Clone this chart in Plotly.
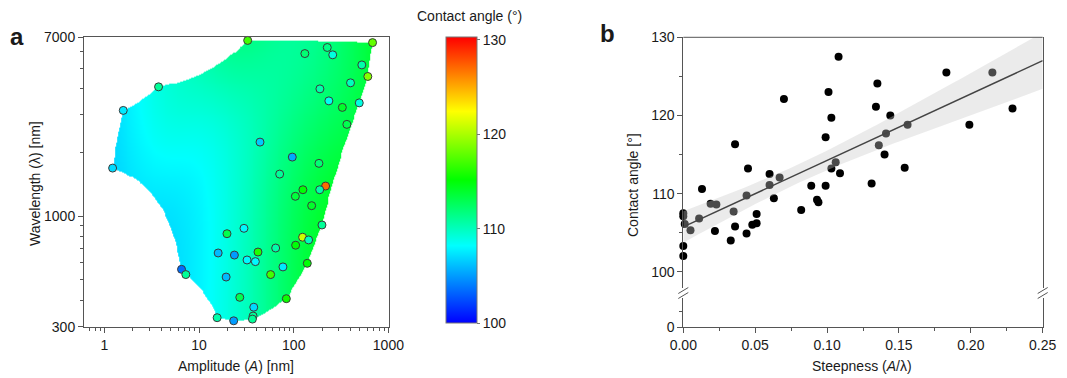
import numpy as np
import plotly.graph_objects as go

# ---------------- Panel a data: amplitude, wavelength, contact angle ----------------
amp_nm = [3.73, 1.58, 1.22, 32.6, 680, 226, 131, 258, 524, 606, 398, 189, 235, 492, 326, 364,
          44, 96.5, 184.5, 71, 217, 125, 188, 104, 154.6, 198.6, 29.8, 124, 104.7, 143.5, 64.4,
          41.9, 32.1, 39.3, 139, 76.9, 57, 26.9, 83.5, 37.8, 37.2, 36.6, 19.7, 15.9, 23.6,
          6.52, 7.24, 19.3, 15.5, 23.2]
wavelength_nm = [4074, 3153, 1684, 6747, 6590, 6250, 5850, 5770, 5170, 4560, 4256, 3985, 3497,
                 3422, 3258, 2709, 2234, 1898, 1773, 1578, 1385, 1331, 1331, 1239, 1119, 907, 875,
                 794, 728, 771, 706, 676, 620, 609, 598, 575, 529, 413, 407, 371, 337, 326, 825,
                 669, 654, 560, 529, 515, 331, 320]
angle_a = [111, 107.5, 107, 117, 118, 111.5, 112, 109, 110.5, 119, 110, 110.5, 108.5, 109, 114,
           113, 106.5, 105.5, 112, 111, 127, 115, 110.5, 113.5, 114, 111, 108, 121, 115, 110,
           110.5, 116, 108, 108, 115, 107.5, 117, 113, 115.5, 107, 111, 111, 113, 106, 105,
           103.5, 111, 106, 110.5, 105]

# ---------------- Panel b data: steepness vs contact angle ----------------
steepness = [0.000, 0.000, 0.001, 0.000, 0.000, 0.005, 0.011, 0.013, 0.019, 0.023, 0.022, 0.033,
             0.035, 0.036, 0.036, 0.044, 0.044, 0.045, 0.048, 0.051, 0.051, 0.060, 0.060, 0.063,
             0.067, 0.070, 0.082, 0.089, 0.093, 0.094, 0.099, 0.099, 0.101, 0.103, 0.103, 0.106,
             0.108, 0.109, 0.131, 0.134, 0.135, 0.136, 0.140, 0.141, 0.144, 0.154, 0.156, 0.183,
             0.199, 0.215, 0.229]
angle_b = [102.0, 103.3, 106.1, 107.1, 107.5, 105.3, 106.8, 110.6, 108.7, 108.6, 105.2, 104.0,
           107.7, 116.3, 105.8, 104.9, 109.75, 113.2, 106.0, 106.2, 107.4, 111.1, 112.5, 109.4,
           112.05, 122.1, 107.9, 111.0, 109.2, 108.9, 111.0, 117.2, 123.0, 119.7, 113.2, 114.0,
           127.5, 112.6, 111.3, 121.1, 124.1, 116.2, 115.0, 117.7, 120.0, 113.3, 118.8, 125.5,
           118.8, 125.5, 120.9]

# ticks
a_xticks = [1, 10, 100, 1000]
a_xticktext = ["1", "10", "100", "1000"]
a_xminor = [0.7, 0.8, 0.9] + [m * d for d in (1, 10, 100) for m in range(2, 10)]
a_yticks = [300, 1000, 7000]
a_yticktext = ["300", "1000", "7000"]
a_yminor = [400, 500, 600, 700, 800, 900, 2000, 3000, 4000, 5000, 6000]
cb_ticks = [100, 110, 120, 130]
b_xticks = [0, 0.05, 0.10, 0.15, 0.20, 0.25]
b_xticktext = ["0.00", "0.05", "0.10", "0.15", "0.20", "0.25"]
b_xminor = [0.025, 0.075, 0.125, 0.175, 0.225]
b_yticks = [100, 110, 120, 130]
b_yminor = [105, 115, 125]
b_y3ticks = [0]
b_y3minor = [2]

W, H = 1067, 378
def px(x): return x / W
def py(y): return 1 - y / H

FONT = "Arial, 'Liberation Sans', sans-serif"
AX = "#555555"
TXT = "#1a1a1a"
CMIN, CMAX = 100, 130.3
cscale = [[0.0, "#0000ff"], [0.27, "#00ffff"], [0.5, "#00ff00"], [0.74, "#ffff00"], [1.0, "#ff0000"]]

# ---------------- surface for panel a (plane fit + smoothed residuals, clipped to hull) ----------------
A = np.array(amp_nm, float); L = np.array(wavelength_nm, float); V = np.array(angle_a, float)
la, ll = np.log10(A), np.log10(L)
M = np.column_stack([np.ones_like(la), la, ll])
coef, *_ = np.linalg.lstsq(M, V, rcond=None)
resid = V - M @ coef
gx = np.linspace(-0.22, 3.0, 330)
gy = np.linspace(np.log10(300), np.log10(7000), 300)
GX, GY = np.meshgrid(gx, gy)
bw = 0.35
w = np.exp(-((GX[..., None] - la) ** 2 + (GY[..., None] - ll) ** 2) / (2 * bw ** 2))
Z = coef[0] + coef[1] * GX + coef[2] * GY + (w * resid).sum(-1) / (w.sum(-1) + 1.0)

# convex hull in linear space
pts = sorted(set(zip(A.tolist(), L.tolist())))
def cross(o, a, b): return (a[0]-o[0])*(b[1]-o[1]) - (a[1]-o[1])*(b[0]-o[0])
lower, upper = [], []
for p in pts:
    while len(lower) >= 2 and cross(lower[-2], lower[-1], p) <= 0: lower.pop()
    lower.append(p)
for p in reversed(pts):
    while len(upper) >= 2 and cross(upper[-2], upper[-1], p) <= 0: upper.pop()
    upper.append(p)
hull = lower[:-1] + upper[:-1]
GXl, GYl = 10 ** GX, 10 ** GY
inside = np.ones_like(GXl, bool)
for i in range(len(hull)):
    a = hull[i]; b = hull[(i + 1) % len(hull)]
    c = (b[0]-a[0])*(GYl-a[1]) - (b[1]-a[1])*(GXl-a[0])
    inside &= c >= 0
Z = np.where(inside, Z, np.nan)

# ---------------- regression for panel b ----------------
xs = np.array(steepness); ys = np.array(angle_b)
n = len(xs)
slope, icpt = np.polyfit(xs, ys, 1)
res = ys - (slope * xs + icpt)
s = np.sqrt((res ** 2).sum() / (n - 2))
xbar = xs.mean(); Sxx = ((xs - xbar) ** 2).sum()
xg = np.linspace(0, 0.25, 120)
yfit = slope * xg + icpt
half = 2.01 * s * np.sqrt(1 / n + (xg - xbar) ** 2 / Sxx)

fig = go.Figure()
fig.add_trace(go.Heatmap(
    x=10 ** gx, y=10 ** gy, z=Z, colorscale=cscale, zmin=CMIN, zmax=CMAX, zsmooth=False,
    hoverinfo="skip", xaxis="x", yaxis="y",
    colorbar=dict(x=px(446), xanchor="left", y=py(180), yanchor="middle", xpad=0, ypad=0,
                  thickness=31, thicknessmode="pixels", len=286, lenmode="pixels",
                  outlinewidth=1, outlinecolor="#777", tickvals=cb_ticks,
                  ticks="outside", ticklen=3, tickcolor="#777",
                  tickfont=dict(size=14, color=TXT, family=FONT))))
fig.add_trace(go.Scatter(
    x=amp_nm, y=wavelength_nm, mode="markers", xaxis="x", yaxis="y", cliponaxis=False,
    marker=dict(size=8, color=angle_a, colorscale=cscale, cmin=CMIN, cmax=CMAX,
                line=dict(color="#3a3a3a", width=1)), showlegend=False))

# empty trace so that the lower (broken) segment of panel b's y axis is drawn
fig.add_trace(go.Scatter(x=[], y=[], xaxis="x2", yaxis="y3", showlegend=False))

fig.add_trace(go.Scatter(x=xs, y=ys, mode="markers", xaxis="x2", yaxis="y2", cliponaxis=False,
                         marker=dict(size=8, color="black"), showlegend=False))
fig.add_trace(go.Scatter(x=np.concatenate([xg, xg[::-1]]),
                         y=np.concatenate([yfit + half, (yfit - half)[::-1]]),
                         fill="toself", fillcolor="rgba(200,200,200,0.37)", line=dict(width=0),
                         mode="lines", xaxis="x2", yaxis="y2", showlegend=False, hoverinfo="skip"))
fig.add_trace(go.Scatter(x=xg, y=yfit, mode="lines", line=dict(color="#444", width=1.4),
                         xaxis="x2", yaxis="y2", showlegend=False))

common = dict(showline=True, linecolor=AX, linewidth=1, ticks="outside", tickcolor=AX,
              ticklen=5, showgrid=False, zeroline=False, automargin=False,
              tickfont=dict(size=14, color=TXT, family=FONT))
fig.update_layout(
    width=W, height=H, margin=dict(l=0, r=0, t=0, b=0, autoexpand=False),
    paper_bgcolor="white", plot_bgcolor="white", showlegend=False,
    font=dict(family=FONT, color=TXT),
    xaxis=dict(common, type="log", domain=[px(84), px(388.5)], range=[-0.216, 3.001],
               anchor="y", mirror=True, tickvals=a_xticks, ticktext=a_xticktext,
               minor=dict(tickvals=a_xminor, ticklen=3, ticks="outside", tickcolor=AX)),
    yaxis=dict(common, type="log", domain=[py(326.8), py(37)],
               range=[np.log10(300) - 0.0003, np.log10(7000) + 0.0003],
               anchor="x", mirror=True, tickvals=a_yticks, ticktext=a_yticktext,
               minor=dict(tickvals=a_yminor, ticklen=3, ticks="outside", tickcolor=AX)),
    xaxis2=dict(common, domain=[px(683.3), px(1042.7)], range=[0, 0.25], anchor="y3",
                tickvals=b_xticks, ticktext=b_xticktext,
                minor=dict(tickvals=b_xminor, ticklen=3, ticks="outside", tickcolor=AX)),
    yaxis2=dict(common, domain=[py(288), py(37.3)], range=[97.92, 130], anchor="x2",
                mirror=True, tickvals=b_yticks,
                minor=dict(tickvals=b_yminor, ticklen=3, ticks="outside", tickcolor=AX)),
    yaxis3=dict(common, domain=[py(327.3), py(298)], range=[-0.01, 3.8], anchor="x2",
                mirror=True, tickvals=b_y3ticks,
                minor=dict(tickvals=b_y3minor, ticklen=3, ticks="outside", tickcolor=AX)),
)

shapes = [dict(type="line", xref="x2 domain", yref="y2 domain", x0=0, x1=1, y0=1, y1=1,
               line=dict(color=AX, width=1))]
for bx in (683.3, 1042.7):
    for by in (290.5, 295.5):
        shapes.append(dict(type="line", xref="paper", yref="paper",
                           x0=px(bx - 5), y0=py(by + 3), x1=px(bx + 5), y1=py(by - 3),
                           line=dict(color=AX, width=1)))
fig.update_layout(shapes=shapes)

ann = [
    dict(text="<b>a</b>", x=px(17), y=py(36), font=dict(size=24)),
    dict(text="<b>b</b>", x=px(607), y=py(33), font=dict(size=24)),
    dict(text="Wavelength (λ) [nm]", x=px(35), y=py(184), textangle=-90, font=dict(size=14)),
    dict(text="Amplitude (<i>A</i>) [nm]", x=px(236), y=py(366), font=dict(size=14)),
    dict(text="Contact angle [°]", x=px(633), y=py(185), textangle=-90, font=dict(size=14)),
    dict(text="Steepness (<i>A</i>/λ)", x=px(862), y=py(366), font=dict(size=14)),
    dict(text="Contact angle (°)", x=px(469), y=py(16), font=dict(size=14)),
]
for a in ann:
    a.update(xref="paper", yref="paper", showarrow=False, xanchor="center", yanchor="middle")
    a["font"].update(family=FONT, color=TXT)
fig.update_layout(annotations=ann)

fig.write_html("out.html")
